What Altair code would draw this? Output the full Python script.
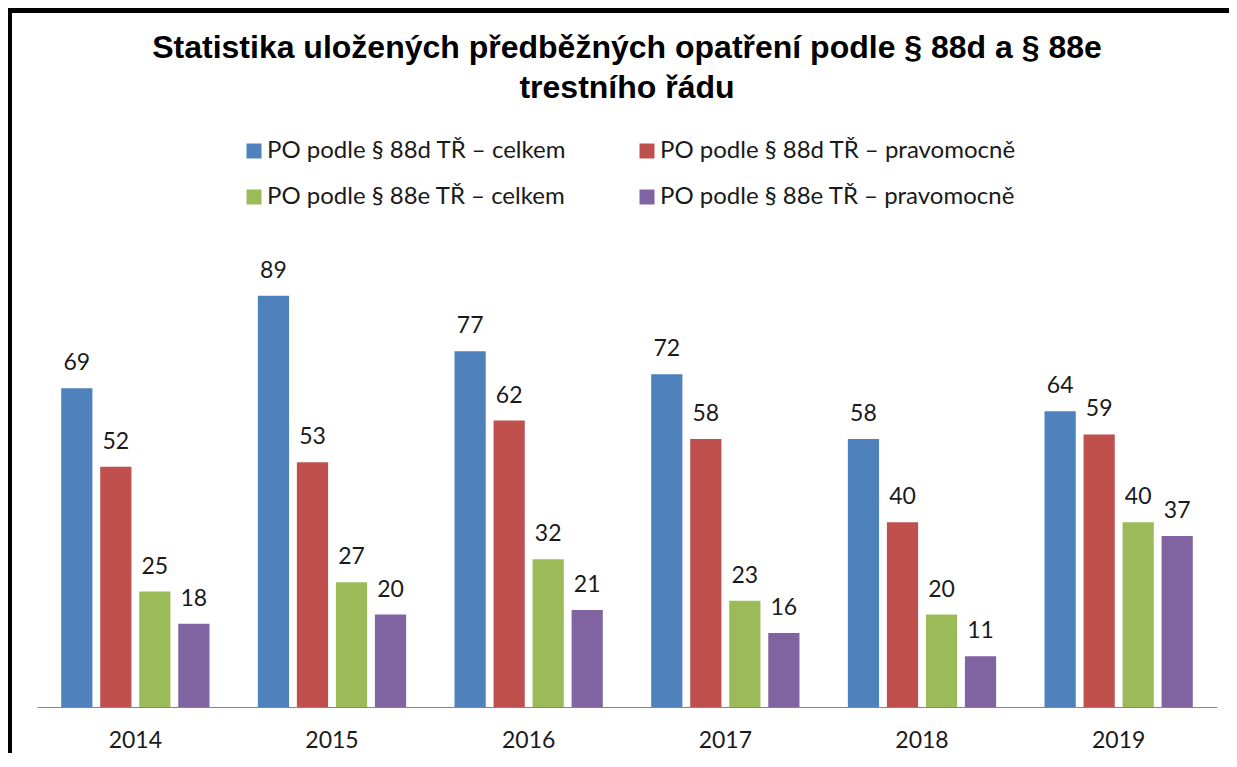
import altair as alt
import pandas as pd

years = ["2014", "2015", "2016", "2017", "2018", "2019"]
series = [
    "PO podle § 88d TŘ – celkem",
    "PO podle § 88d TŘ – pravomocně",
    "PO podle § 88e TŘ – celkem",
    "PO podle § 88e TŘ – pravomocně",
]
d_celkem = [69, 89, 77, 72, 58, 64]
d_pravomocne = [52, 53, 62, 58, 40, 59]
e_celkem = [25, 27, 32, 23, 20, 40]
e_pravomocne = [18, 20, 21, 16, 11, 37]
colors = ["#4F81BD", "#C0504D", "#9BBB59", "#8064A2"]
title_lines = [
    "Statistika uložených předběžných opatření podle § 88d a § 88e",
    "trestního řádu",
]

rows = []
for s, vals in zip(series, [d_celkem, d_pravomocne, e_celkem, e_pravomocne]):
    for yr, v in zip(years, vals):
        rows.append({"year": yr, "series": s, "value": v})
df = pd.DataFrame(rows)

W, H = 1180, 462
PAD = {"left": 29, "top": 237, "right": 12, "bottom": 46}
TXT = "#1a1a1a"

x = alt.X(
    "year:N",
    sort=years,
    scale=alt.Scale(paddingInner=0, paddingOuter=0),
    axis=alt.Axis(
        title=None, labelAngle=0, ticks=False, domainColor="#868686",
        labelFont="Lato", labelFontSize=23, labelColor=TXT, labelPadding=22,
    ),
)
xo = alt.XOffset("series:N", sort=series,
                 scale=alt.Scale(paddingInner=0.2, paddingOuter=0.62))
y = alt.Y("value:Q", scale=alt.Scale(domain=[0, 100]), axis=None)
color = alt.Color(
    "series:N",
    sort=series,
    scale=alt.Scale(domain=series, range=colors),
    legend=alt.Legend(
        title=None, orient="none", legendX=205, legendY=-106,
        direction="horizontal", columns=2, columnPadding=68, rowPadding=22,
        symbolType="square", symbolSize=225, symbolStrokeWidth=0,
        labelFont="Lato", labelFontSize=24, labelColor=TXT,
        labelOffset=1, labelLimit=600,
    ),
)

base = alt.Chart(df).encode(x=x, xOffset=xo, y=y)
bars = base.mark_bar().encode(color=color)
labels = base.mark_text(
    font="Lato", fontSize=23, color=TXT, baseline="alphabetic", dy=-18
).encode(text="value:Q")

frame_df = pd.DataFrame({"k": [0]})
frame_left = alt.Chart(frame_df).mark_rule(color="black", strokeWidth=5).encode(
    x=alt.value(-27.5), y=alt.value(-PAD["top"]), y2=alt.value(H + PAD["bottom"])
)
frame_top = alt.Chart(frame_df).mark_rule(color="black", strokeWidth=5).encode(
    x=alt.value(-PAD["left"]), x2=alt.value(W + PAD["right"]), y=alt.value(-234.5)
)

chart = alt.layer(frame_left, frame_top, bars, labels).properties(
    width=W,
    height=H,
    title=alt.Title(
        title_lines, font="Liberation Sans", fontSize=32, fontWeight="bold",
        color="black", anchor="middle", frame="group", offset=-99, lineHeight=40,
    ),
    autosize=alt.AutoSizeParams(type="none"),
    padding=PAD,
).configure_view(stroke=None)

chart.save("out.html", embed_options={"renderer": "svg", "actions": False})
